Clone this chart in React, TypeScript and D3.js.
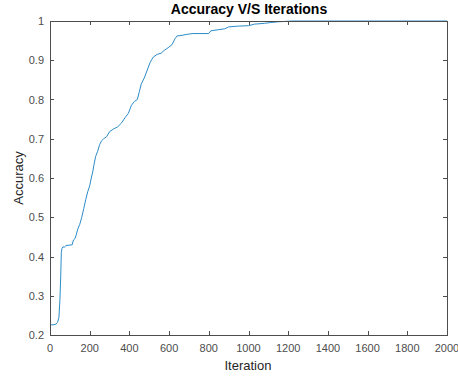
import { useEffect, useRef } from 'react';
import { select, scaleLinear, line, range } from 'd3';

const iterations = [
  0, 20, 30, 38, 45, 50, 54, 57, 60, 66, 72, 80, 100, 112, 118, 125, 132, 140, 150, 160, 170, 180, 190,
  200, 208, 215, 222, 230, 240, 250, 260, 270, 285, 300, 320, 340, 360, 380, 395, 410, 425, 440, 450,
  460, 475, 490, 505, 520, 540, 560, 575, 595, 615, 630, 640, 660, 690, 720, 800, 810, 850, 880, 900,
  950, 1000, 1030, 1080, 1110, 1150, 1220, 2000,
];
const accuracy = [
  0.226, 0.226, 0.228, 0.232, 0.245, 0.29, 0.35, 0.41, 0.42, 0.425, 0.423, 0.428, 0.429, 0.43, 0.442,
  0.445, 0.455, 0.47, 0.482, 0.5, 0.522, 0.545, 0.565, 0.58, 0.6, 0.615, 0.635, 0.655, 0.668, 0.685,
  0.695, 0.7, 0.705, 0.718, 0.725, 0.73, 0.74, 0.755, 0.765, 0.785, 0.795, 0.8, 0.82, 0.84, 0.855,
  0.875, 0.895, 0.908, 0.915, 0.918, 0.925, 0.932, 0.94, 0.955, 0.962, 0.963, 0.966, 0.968, 0.968,
  0.975, 0.978, 0.98, 0.985, 0.987, 0.988, 0.992, 0.994, 0.996, 0.998, 1.0, 1.0,
];
const xTicks = range(0, 2001, 200);
const yTicks = [0.2, 0.3, 0.4, 0.5, 0.6, 0.7, 0.8, 0.9, 1];

const width = 458;
const height = 376;
const margin = { top: 21, right: 11, bottom: 41, left: 50 };
const axisColor = '#4d4d4d';
const font = '"Liberation Sans", Arial, sans-serif';

const App = () => {
  const ref = useRef<SVGSVGElement>(null);

  useEffect(() => {
    const svg = select(ref.current);
    svg.selectAll('*').remove();

    const x0 = margin.left;
    const x1 = width - margin.right;
    const y0 = height - margin.bottom;
    const y1 = margin.top;

    const x = scaleLinear().domain([0, 2000]).range([x0, x1]);
    const y = scaleLinear().domain([0.2, 1]).range([y0, y1]);

    svg.append('rect').attr('width', width).attr('height', height).attr('fill', 'white');

    // data line
    const pts = iterations.map((it, i) => [it, accuracy[i]] as [number, number]);
    const gen = line<[number, number]>()
      .x((d) => x(d[0]))
      .y((d) => y(d[1]));
    svg
      .append('path')
      .attr('d', gen(pts))
      .attr('fill', 'none')
      .attr('stroke', '#2b8cc8')
      .attr('stroke-width', 1);

    // box
    svg
      .append('rect')
      .attr('x', x0 + 0.5)
      .attr('y', y1 + 0.5)
      .attr('width', x1 - x0)
      .attr('height', y0 - y1)
      .attr('fill', 'none')
      .attr('stroke', axisColor)
      .attr('stroke-width', 1);

    const tickLen = 4;

    // x ticks (bottom + top, inward)
    xTicks.forEach((t) => {
      const px = Math.round(x(t)) + 0.5;
      svg.append('line').attr('x1', px).attr('x2', px).attr('y1', y0).attr('y2', y0 - tickLen).attr('stroke', axisColor);
      svg.append('line').attr('x1', px).attr('x2', px).attr('y1', y1).attr('y2', y1 + tickLen).attr('stroke', axisColor);
      svg
        .append('text')
        .attr('x', x(t))
        .attr('y', y0 + 17)
        .attr('text-anchor', 'middle')
        .attr('font-family', font)
        .attr('font-size', 11)
        .attr('fill', axisColor)
        .text(String(t));
    });

    // y ticks (left + right, inward)
    yTicks.forEach((t) => {
      const py = Math.round(y(t)) + 0.5;
      svg.append('line').attr('x1', x0).attr('x2', x0 + tickLen).attr('y1', py).attr('y2', py).attr('stroke', axisColor);
      svg.append('line').attr('x1', x1).attr('x2', x1 - tickLen).attr('y1', py).attr('y2', py).attr('stroke', axisColor);
      svg
        .append('text')
        .attr('x', x0 - 6)
        .attr('y', y(t) + 4)
        .attr('text-anchor', 'end')
        .attr('font-family', font)
        .attr('font-size', 11)
        .attr('fill', axisColor)
        .text(String(t));
    });

    // labels
    svg
      .append('text')
      .attr('x', 249)
      .attr('y', 14)
      .attr('text-anchor', 'middle')
      .attr('font-family', font)
      .attr('font-size', 14)
      .attr('font-weight', 'bold')
      .attr('fill', '#000')
      .text('Accuracy V/S Iterations');

    svg
      .append('text')
      .attr('x', 248)
      .attr('y', 370)
      .attr('text-anchor', 'middle')
      .attr('font-family', font)
      .attr('font-size', 13)
      .attr('fill', '#262626')
      .text('Iteration');

    svg
      .append('text')
      .attr('transform', `translate(23,${(y0 + y1) / 2}) rotate(-90)`)
      .attr('text-anchor', 'middle')
      .attr('font-family', font)
      .attr('font-size', 13)
      .attr('fill', '#262626')
      .text('Accuracy');
  }, []);

  return (
    <svg
      ref={ref}
      width={width}
      height={height}
      style={{ position: 'absolute', left: 0, top: 0, display: 'block' }}
    />
  );
};

export default App;
